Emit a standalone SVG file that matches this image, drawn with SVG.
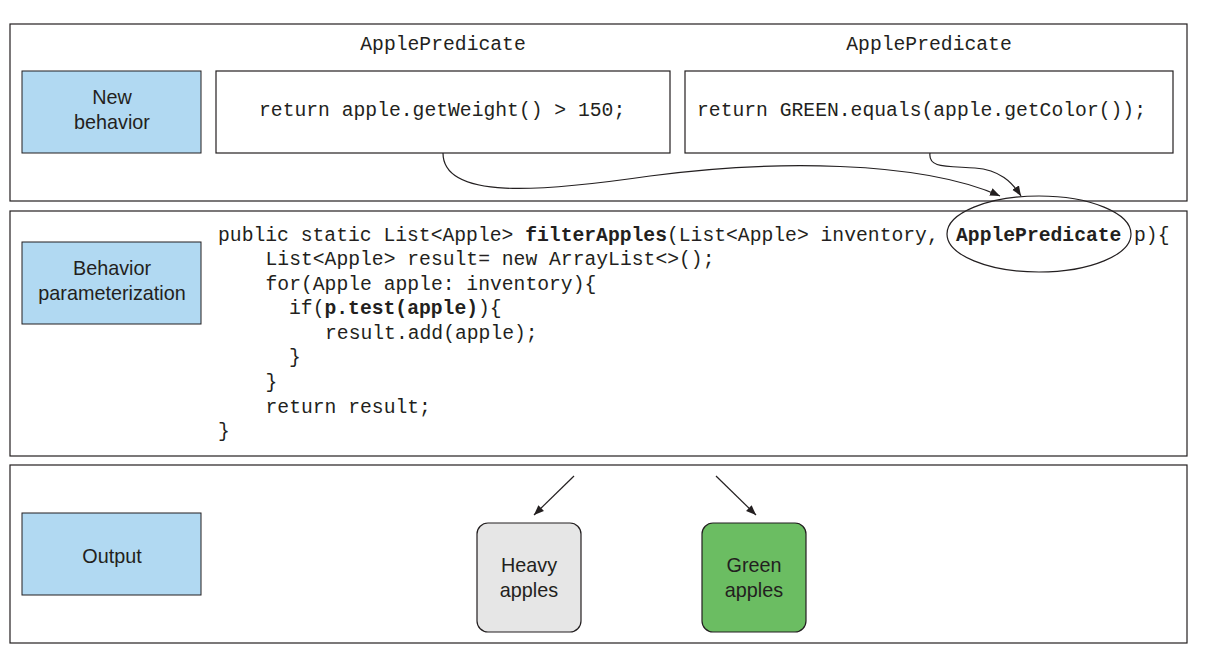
<svg xmlns="http://www.w3.org/2000/svg" width="1206" height="670" viewBox="0 0 1206 670">
<defs>
<style>
.panel{fill:#fff;stroke:#231f20;stroke-width:1.2}
.blue{fill:#b1d9f2;stroke:#231f20;stroke-width:1}
.box{fill:#fff;stroke:#231f20;stroke-width:1.2}
.code{font-family:"Liberation Mono","Courier New",monospace;font-size:19.7px;fill:#231f20}
.b{font-weight:bold}
.lbl{font-family:"Liberation Sans",Arial,sans-serif;font-size:19.8px;fill:#231f20;text-anchor:middle}
.conn{fill:none;stroke:#231f20;stroke-width:1.2}
</style>
<marker id="ah" viewBox="0 0 10 10" refX="10" refY="5" markerWidth="10" markerHeight="10" markerUnits="userSpaceOnUse" orient="auto">
<path d="M0,1 L10,5 L0,9 Z" fill="#231f20"/>
</marker>
</defs>
<rect width="1206" height="670" fill="#fff"/>

<g id="panel-new">
<rect class="panel" x="10" y="24" width="1177" height="177"/>
</g>
<g id="panel-param">
<rect class="panel" x="10" y="211" width="1177" height="245"/>
</g>
<g id="panel-output">
<rect class="panel" x="10" y="465" width="1177" height="178"/>
</g>

<g id="new-behavior">
<rect class="blue" x="22" y="71" width="179" height="82"/>
<text class="lbl" x="112" y="104">New</text>
<text class="lbl" x="112" y="129">behavior</text>
</g>
<g id="behavior-param">
<rect class="blue" x="22" y="242" width="179" height="82"/>
<text class="lbl" x="112" y="275">Behavior</text>
<text class="lbl" x="112" y="300">parameterization</text>
</g>
<g id="output">
<rect class="blue" x="22" y="513" width="179" height="82"/>
<text class="lbl" x="112" y="563">Output</text>
</g>

<g id="pred-weight">
<text class="code" x="443" y="50" text-anchor="middle">ApplePredicate</text>
<rect class="box" x="216" y="71" width="454" height="82"/>
<text class="code" x="259" y="116">return apple.getWeight() &gt; 150;</text>
</g>
<g id="pred-color">
<text class="code" x="929" y="50" text-anchor="middle">ApplePredicate</text>
<rect class="box" x="685" y="71" width="488" height="82"/>
<text class="code" x="697" y="116">return GREEN.equals(apple.getColor());</text>
</g>

<g id="filter-code">
<text class="code" x="218" y="241">public static List&lt;Apple&gt; <tspan class="b">filterApples</tspan>(List&lt;Apple&gt; inventory,</text>
<text class="code b" x="956" y="241">ApplePredicate</text>
<text class="code" x="1134" y="241">p){</text>
<text class="code" x="265.5" y="265">List&lt;Apple&gt; result= new ArrayList&lt;&gt;();</text>
<text class="code" x="265.5" y="290">for(Apple apple: inventory){</text>
<text class="code" x="289" y="314">if(<tspan class="b">p.test(apple)</tspan>){</text>
<text class="code" x="325" y="339">result.add(apple);</text>
<text class="code" x="289" y="363">}</text>
<text class="code" x="265.5" y="388">}</text>
<text class="code" x="265.5" y="413">return result;</text>
<text class="code" x="218" y="437">}</text>
</g>

<g id="predicate-ellipse">
<ellipse cx="1039" cy="234" rx="92" ry="38" fill="none" stroke="#231f20" stroke-width="1.2"/>
</g>

<g id="heavy-apples">
<rect x="477" y="523" width="104" height="109" rx="11" fill="#e6e6e6" stroke="#231f20" stroke-width="1.2"/>
<text class="lbl" x="529" y="572">Heavy</text>
<text class="lbl" x="529" y="597">apples</text>
</g>
<g id="green-apples">
<rect x="702" y="523" width="104" height="109" rx="11" fill="#6bbd62" stroke="#231f20" stroke-width="1.2"/>
<text class="lbl" x="754" y="572">Green</text>
<text class="lbl" x="754" y="597">apples</text>
</g>

<g id="connectors">
<path class="conn" marker-end="url(#ah)" d="M443,153 C443,200 540,192 650,176 C770,160 920,160 1000,196"/>
<path class="conn" marker-end="url(#ah)" d="M930,153 C928,168 945,166 975,168 C1000,170 1012,182 1021,196"/>
<path class="conn" marker-end="url(#ah)" d="M574,476 L534,515"/>
<path class="conn" marker-end="url(#ah)" d="M716,476 L756,515"/>
</g>
</svg>
